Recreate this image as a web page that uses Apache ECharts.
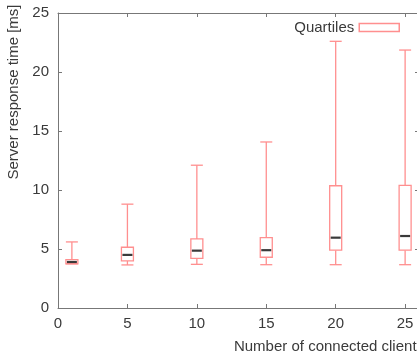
<!DOCTYPE html>
<html>
<head>
<meta charset="utf-8">
<script src="https://cdn.jsdelivr.net/npm/echarts@6/dist/echarts.min.js"></script>
<style>
  html, body { margin: 0; padding: 0; background: #fff; }
  #main { width: 417px; height: 355px; }
</style>
</head>
<body>
<div id="main"></div>
<script>
// number of connected clients (x position of each box)
const clients = [1, 5, 10, 15, 20, 25];
const whiskerLow = [3.75, 3.65, 3.7, 3.67, 3.67, 3.67];
const q1 = [3.75, 4.0, 4.2, 4.3, 4.9, 4.9];
const median = [3.9, 4.5, 4.86, 4.9, 5.96, 6.1];
const q3 = [4.1, 5.15, 5.85, 5.96, 10.36, 10.4];
const whiskerHigh = [5.6, 8.8, 12.1, 14.07, 22.6, 21.86];

const boxColor = "#ff8f8f";
const axisColor = "#777";
const textColor = "#3a3a3a";

const chart = echarts.init(document.getElementById("main"));

let data = clients.map((c, i) => [c, whiskerLow[i], q1[i], median[i], q3[i], whiskerHigh[i]]);

function renderBox(params, api) {
  const x = api.value(0);
  const lo = api.coord([x, api.value(1)]);
  const b1 = api.coord([x, api.value(2)]);
  const md = api.coord([x, api.value(3)]);
  const b3 = api.coord([x, api.value(4)]);
  const hi = api.coord([x, api.value(5)]);
  const cx = lo[0];
  const half = 6;
  const line = { stroke: boxColor, lineWidth: 1.3, fill: null };
  return {
    type: "group",
    children: [
      { type: "line", shape: { x1: cx, y1: hi[1], x2: cx, y2: b3[1] }, style: line },
      { type: "line", shape: { x1: cx - half, y1: hi[1], x2: cx + half, y2: hi[1] }, style: line },
      { type: "line", shape: { x1: cx, y1: b1[1], x2: cx, y2: lo[1] }, style: line },
      { type: "line", shape: { x1: cx - half, y1: lo[1], x2: cx + half, y2: lo[1] }, style: line },
      { type: "rect", shape: { x: cx - half, y: b3[1], width: half * 2, height: b1[1] - b3[1] },
        style: { stroke: boxColor, lineWidth: 1.3, fill: "#fff" } },
      { type: "line", shape: { x1: cx - half + 1, y1: md[1], x2: cx + half - 1, y2: md[1] },
        style: { stroke: "#3a3a3a", lineWidth: 2.2 } },
    ],
  };
}

const option = {
  animation: false,
  textStyle: { fontFamily: "Liberation Sans, Arial, sans-serif" },
  legend: {
    data: [{ name: "Quartiles", icon: "rect",
      itemStyle: { color: "#fff", borderColor: boxColor, borderWidth: 1.5 } }],
    right: 12,
    top: 15,
    align: "right",
    itemWidth: 40,
    itemHeight: 8,
    textStyle: { color: textColor, fontSize: 15 },
  },
  grid: { left: 58, top: 13, width: 361, height: 295, outerBoundsMode: "none", containLabel: false },
  xAxis: [
    {
      type: "value",
      min: 0,
      max: 26,
      interval: 5,
      name: "Number of connected clients",
      nameLocation: "middle",
      nameGap: 31,
      nameTextStyle: { color: textColor, fontSize: 15, padding: [0, 0, 0, 181] },
      axisLine: { show: true, onZero: false, lineStyle: { color: axisColor } },
      axisTick: { inside: true, length: 4, lineStyle: { color: axisColor } },
      axisLabel: { color: textColor, fontSize: 15, margin: 8 },
      splitLine: { show: false },
    },
    {
      type: "value",
      position: "top",
      min: 0,
      max: 26,
      interval: 5,
      axisLine: { show: true, onZero: false, lineStyle: { color: axisColor } },
      axisTick: { show: true, inside: true, length: 4, lineStyle: { color: axisColor } },
      axisLabel: { show: false },
      splitLine: { show: false },
    },
  ],
  yAxis: [
    {
      type: "value",
      min: 0,
      max: 25,
      interval: 5,
      name: "Server response time [ms]",
      nameLocation: "middle",
      nameRotate: 90,
      nameGap: 31,
      nameTextStyle: { color: textColor, fontSize: 15, padding: [0, 0, 0, 137] },
      axisLine: { show: true, onZero: false, lineStyle: { color: axisColor } },
      axisTick: { show: true, inside: true, length: 4, lineStyle: { color: axisColor } },
      axisLabel: { color: textColor, fontSize: 15, margin: 9 },
      splitLine: { show: false },
    },
    {
      type: "value",
      position: "right",
      min: 0,
      max: 25,
      interval: 5,
      axisLine: { show: true, onZero: false, lineStyle: { color: axisColor } },
      axisTick: { show: true, inside: true, length: 4, lineStyle: { color: axisColor } },
      axisLabel: { show: false },
      splitLine: { show: false },
    },
  ],
  series: [
    {
      name: "Quartiles",
      type: "custom",
      renderItem: renderBox,
      encode: { x: 0, y: [1, 2, 3, 4, 5] },
      data: data,
    },
  ],
};

chart.setOption(option);
</script>
</body>
</html>
